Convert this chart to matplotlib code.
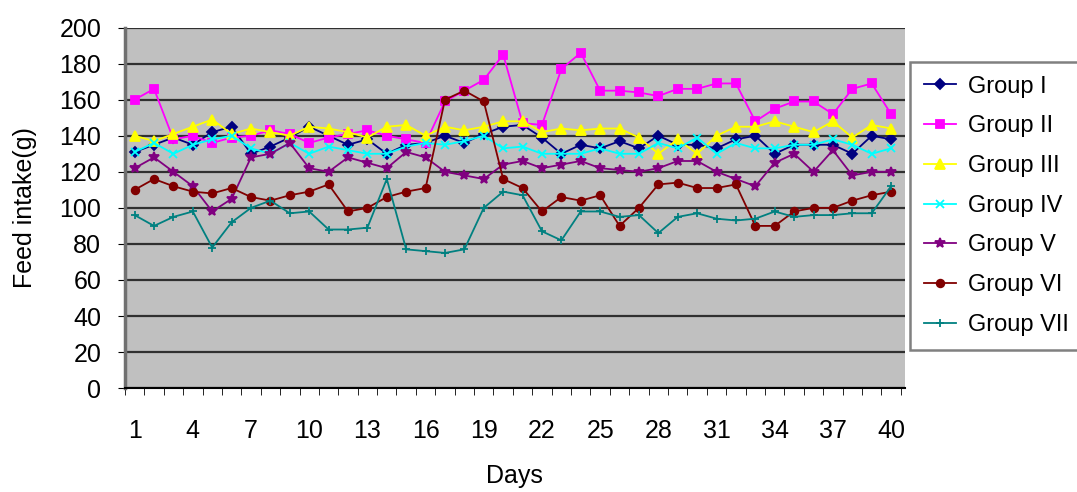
import numpy as np
import matplotlib
matplotlib.use("Agg")
import matplotlib.pyplot as plt

plt.rcParams['font.family'] = ['Liberation Sans Narrow', 'Liberation Sans', 'DejaVu Sans']

days = list(range(1, 41))

group_1 = [131, 135, 139, 135, 142, 145, 130, 134, 139, 145,
           140, 135, 138, 130, 135, 136, 140, 136, 141, 145,
           146, 139, 130, 135, 133, 137, 133, 140, 135, 135,
           133, 138, 140, 130, 135, 135, 135, 130, 140, 138]
group_2 = [160, 166, 138, 140, 136, 139, 140, 143, 141, 136,
           139, 141, 143, 140, 138, 136, 159, 165, 171, 185,
           147, 146, 177, 186, 165, 165, 164, 162, 166, 166,
           169, 169, 148, 155, 159, 159, 152, 166, 169, 152]
group_3 = [140, 137, 141, 145, 149, 141, 144, 142, 140, 145,
           144, 142, 139, 145, 146, 140, 145, 143, 145, 148,
           148, 142, 144, 143, 144, 144, 139, 130, 138, 130,
           140, 145, 145, 148, 145, 142, 148, 139, 146, 144]
group_4 = [131, 136, 130, 135, 138, 140, 133, 130, 136, 130,
           134, 132, 130, 130, 134, 136, 135, 137, 140, 133,
           134, 130, 130, 130, 133, 130, 130, 136, 133, 139,
           130, 136, 133, 133, 135, 135, 138, 135, 130, 133]
group_5 = [122, 128, 120, 112, 98, 105, 128, 130, 136, 122,
           120, 128, 125, 122, 131, 128, 120, 118, 116, 124,
           126, 122, 124, 126, 122, 121, 120, 122, 126, 126,
           120, 116, 112, 125, 130, 120, 132, 118, 120, 120]
group_6 = [110, 116, 112, 109, 108, 111, 106, 104, 107, 109,
           113, 98, 100, 106, 109, 111, 160, 165, 159, 116,
           111, 98, 106, 104, 107, 90, 100, 113, 114, 111,
           111, 113, 90, 90, 98, 100, 100, 104, 107, 109]
group_7 = [96, 90, 95, 98, 78, 92, 100, 104, 97, 98,
           88, 88, 89, 116, 77, 76, 75, 77, 100, 109,
           107, 87, 82, 98, 98, 95, 96, 86, 95, 97,
           94, 93, 94, 98, 95, 96, 96, 97, 97, 112]

series = [
    ("Group I", group_1, "#000080", "D", 5),
    ("Group II", group_2, "#FF00FF", "s", 6),
    ("Group III", group_3, "#FFFF00", "^", 7),
    ("Group IV", group_4, "#00FFFF", "x", 6),
    ("Group V", group_5, "#800080", "*", 7),
    ("Group VI", group_6, "#800000", "o", 5.5),
    ("Group VII", group_7, "#008080", "+", 6),
]

fig = plt.figure(figsize=(10.77, 4.92), dpi=100)
ax = fig.add_axes([0.116, 0.211, 0.724, 0.733])
ax.set_facecolor("#C0C0C0")

handles = []
for name, vals, col, mk, ms in series:
    h, = ax.plot(days, vals, color=col, marker=mk, markersize=ms, lw=1.3,
                 markeredgewidth=1.3, label=name, zorder=3)
    handles.append(h)

ax.set_ylim(0, 200)
ax.set_yticks(range(0, 201, 20))
ax.set_xlim(0.5, 40.7)
ax.set_xticks(list(range(1, 41, 3)))
ax.set_xticks(np.arange(0.5, 41, 1), minor=True)
ax.tick_params(axis='x', which='major', length=0, pad=22, labelsize=18)
ax.tick_params(axis='x', which='minor', length=5, direction='out', color='black')
ax.tick_params(axis='y', which='major', length=5, direction='out', labelsize=18, pad=12)

ax.grid(axis='y', color='#303030', lw=1.6, zorder=1)
ax.set_axisbelow(True)

for s in ('top', 'right'):
    ax.spines[s].set_visible(False)
ax.spines['left'].set_color('#707070')
ax.spines['left'].set_linewidth(2.5)
ax.spines['bottom'].set_color('black')
ax.spines['bottom'].set_linewidth(1.5)

ax.set_ylabel("Feed intake(g)", fontsize=18, labelpad=16)
ax.set_xlabel("Days", fontsize=18, labelpad=15)

leg = fig.legend(handles=handles, loc='upper left', bbox_to_anchor=(0.845, 0.875),
                 fontsize=17, frameon=True, fancybox=False, borderpad=0.6,
                 labelspacing=0.75, handlelength=1.35, handletextpad=0.5,
                 borderaxespad=0)
leg.get_frame().set_edgecolor('#606060')
leg.get_frame().set_linewidth(1.8)

fig.savefig("out.png", dpi=100, facecolor='white')
